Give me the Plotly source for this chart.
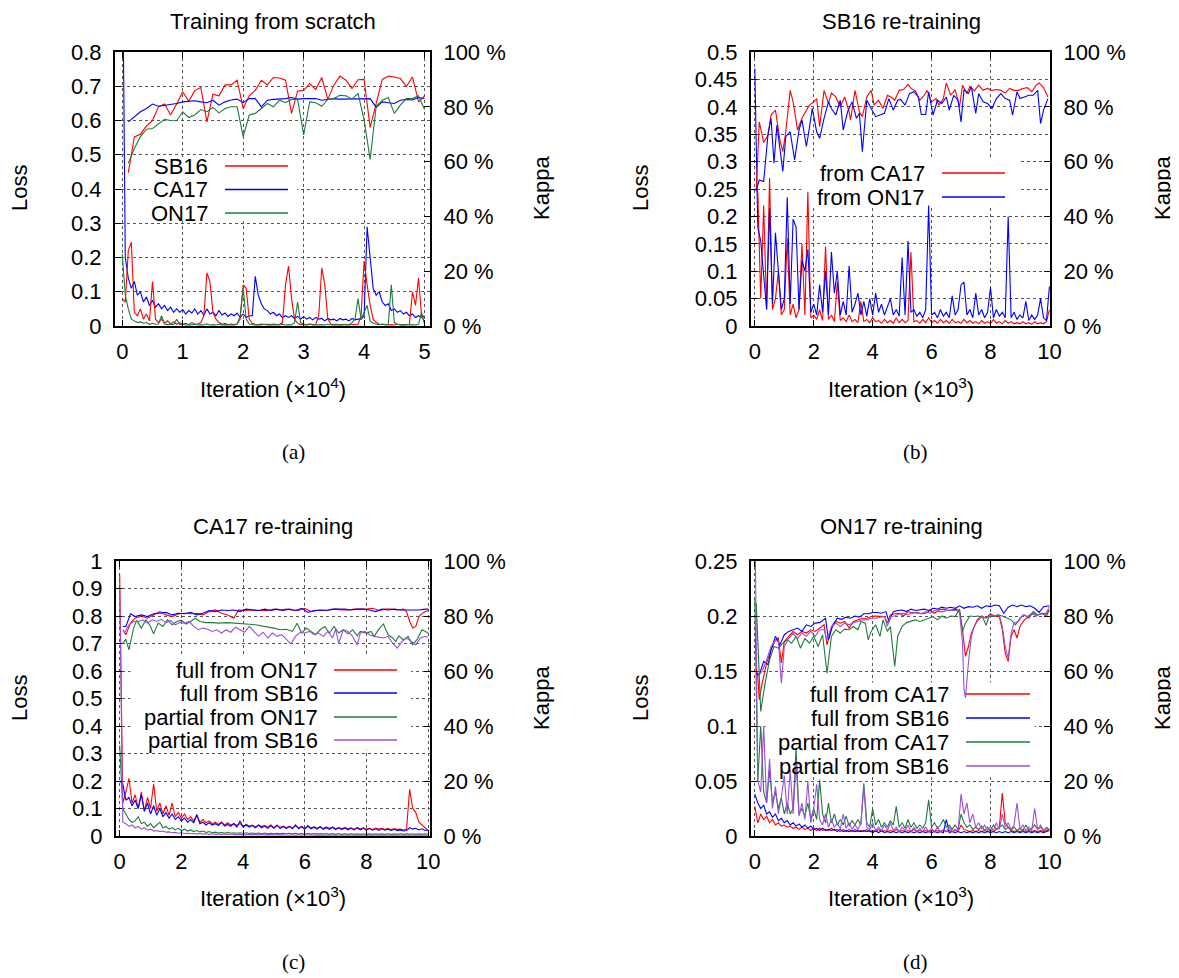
import plotly.graph_objects as go

W, H = 1179, 978
OFF = 8  # the page body adds an 8 px margin round the figure
FONT = "Liberation Sans, Arial, Helvetica, sans-serif"
SERIF = "Liberation Serif, DejaVu Serif, serif"
RED, BLUE, GREEN, PURPLE = "#ff0000", "#0000ff", "#1e7b3e", "#9b4fd9"

#%% iteration grids (loss logged every 500 / 100 iterations)
loss_x_a = [round(0.05 * i, 2) for i in range(101)]   # x10^4
loss_x_k = [round(0.1 * i, 1) for i in range(101)]    # x10^3
kappa_x_a = [round(0.1 * i, 1) for i in range(1, 51)]

#%% (a) training from scratch
loss_a_sb16 = [0.08, 0.07, 0.22, 0.245, 0.04, 0.03, 0.05, 0.02, 0.035, 0.015,
               0.13, 0.02, 0.01, 0.02, 0.008, 0.015, 0.006, 0.012, 0.005, 0.01,
               0.005, 0.008, 0.004, 0.01, 0.005, 0.006, 0.01, 0.03, 0.155, 0.13,
               0.04, 0.02, 0.01, 0.005, 0.008, 0.004, 0.006, 0.004, 0.006, 0.02,
               0.12, 0.11, 0.02, 0.008, 0.005, 0.004, 0.006, 0.004, 0.005, 0.004,
               0.006, 0.004, 0.005, 0.01, 0.12, 0.175, 0.08, 0.02, 0.008, 0.004,
               0.005, 0.004, 0.006, 0.004, 0.005, 0.03, 0.17, 0.12, 0.02, 0.006,
               0.004, 0.005, 0.003, 0.005, 0.003, 0.004, 0.003, 0.004, 0.005, 0.03,
               0.19, 0.12, 0.06, 0.02, 0.01, 0.005, 0.004, 0.005, 0.003, 0.004,
               0.003, 0.005, 0.003, 0.004, 0.003, 0.005, 0.1, 0.06, 0.14, 0.03,
               0.01]
loss_a_ca17 = [1.2, 0.2, 0.14, 0.11, 0.13, 0.09, 0.1, 0.07, 0.085, 0.06,
               0.075, 0.055, 0.065, 0.05, 0.06, 0.045, 0.055, 0.04, 0.05, 0.04,
               0.048, 0.035, 0.045, 0.038, 0.05, 0.035, 0.045, 0.032, 0.05, 0.035,
               0.04, 0.03, 0.045, 0.032, 0.038, 0.028, 0.035, 0.03, 0.038, 0.025,
               0.035, 0.025, 0.03, 0.03, 0.145, 0.09, 0.065, 0.05, 0.045, 0.035,
               0.04, 0.03, 0.035, 0.025, 0.03, 0.025, 0.03, 0.022, 0.028, 0.02,
               0.028, 0.02, 0.025, 0.018, 0.025, 0.02, 0.022, 0.015, 0.022, 0.018,
               0.02, 0.015, 0.022, 0.018, 0.02, 0.015, 0.022, 0.018, 0.02, 0.02,
               0.03, 0.29, 0.2, 0.11, 0.09, 0.1, 0.07, 0.06, 0.065, 0.045,
               0.05, 0.04, 0.045, 0.035, 0.04, 0.03, 0.035, 0.025, 0.03, 0.025,
               0.03]
loss_a_on17 = [0.21, 0.09, 0.05, 0.02, 0.015, 0.01, 0.012, 0.008, 0.01, 0.005,
               0.008, 0.005, 0.006, 0.03, 0.006, 0.004, 0.005, 0.004, 0.02, 0.004,
               0.005, 0.003, 0.004, 0.003, 0.005, 0.003, 0.004, 0.003, 0.006, 0.003,
               0.004, 0.003, 0.005, 0.003, 0.004, 0.003, 0.004, 0.003, 0.005, 0.03,
               0.11, 0.02, 0.006, 0.004, 0.003, 0.004, 0.003, 0.005, 0.003, 0.004,
               0.003, 0.004, 0.003, 0.005, 0.003, 0.004, 0.003, 0.01, 0.07, 0.01,
               0.004, 0.003, 0.005, 0.003, 0.004, 0.003, 0.004, 0.003, 0.005, 0.003,
               0.004, 0.003, 0.004, 0.003, 0.005, 0.003, 0.01, 0.02, 0.08, 0.02,
               0.04, 0.06, 0.015, 0.008, 0.005, 0.004, 0.006, 0.004, 0.005, 0.12,
               0.01, 0.005, 0.004, 0.003, 0.005, 0.003, 0.004, 0.003, 0.005, 0.04,
               0.006]
kappa_a_sb16 = [56, 69, 70, 73, 75, 80, 81, 77, 81, 85.5,
                82, 86, 87, 74.5, 84.6, 84, 88, 88, 89.7, 79.4,
                84, 86, 89.7, 88, 90.7, 90.5, 89.7, 77.6, 85.7, 86,
                88.5, 86.3, 90.7, 82.7, 87.9, 91.2, 89.7, 86.7, 89.9, 90,
                72.5, 81, 90, 91.2, 90.9, 90.3, 87.5, 90.9, 81.8, 84]
kappa_a_ca17 = [74.5, 76.4, 78.2, 79.4, 81, 80.2, 80.5, 81, 81.2, 81.8,
                82, 82.2, 81.8, 81.5, 82.4, 80.6, 81.8, 82.5, 82.8, 81.5,
                83, 83, 80, 82.4, 82.7, 82.8, 83, 83.4, 82.8, 83,
                83, 83, 82.4, 82.7, 83, 82.8, 82.8, 83, 82.8, 82.8,
                83, 79.8, 81.8, 81.5, 81.2, 82.4, 82.7, 82.5, 83.4, 83]
kappa_a_on17 = [59.4, 64.8, 69.1, 71.8, 72.1, 73.9, 75.4, 75, 74.9, 78.2,
                76.1, 77, 79, 78.2, 79.8, 77.8, 79.4, 80, 80, 69.1,
                77, 77.6, 79.4, 81.2, 80, 82.4, 81.5, 82.7, 82.8, 69.7,
                81.8, 81.5, 80.2, 82.7, 83, 84.2, 84, 82.8, 84.8, 75.2,
                60.8, 80.2, 82.4, 83.4, 77.6, 80.6, 83, 83, 84, 79]

#%% (b) SB16 re-training
loss_b_ca17 = [0.25, 0.245, 0.05, 0.22, 0.03, 0.27, 0.03, 0.05, 0.1, 0.02,
               0.03, 0.16, 0.02, 0.04, 0.015, 0.03, 0.15, 0.02, 0.245, 0.015,
               0.02, 0.012, 0.03, 0.01, 0.145, 0.012, 0.02, 0.008, 0.08, 0.01,
               0.015, 0.008, 0.02, 0.008, 0.012, 0.006, 0.045, 0.008, 0.012, 0.006,
               0.015, 0.008, 0.01, 0.005, 0.012, 0.006, 0.01, 0.005, 0.015, 0.006,
               0.012, 0.006, 0.01, 0.135, 0.008, 0.01, 0.005, 0.012, 0.006, 0.015,
               0.006, 0.01, 0.005, 0.012, 0.006, 0.01, 0.005, 0.012, 0.006, 0.008,
               0.005, 0.012, 0.006, 0.01, 0.005, 0.008, 0.004, 0.01, 0.005, 0.008,
               0.004, 0.012, 0.005, 0.008, 0.004, 0.01, 0.005, 0.008, 0.004, 0.006,
               0.004, 0.008, 0.004, 0.006, 0.003, 0.008, 0.004, 0.006, 0.004, 0.008,
               0.03]
loss_b_on17 = [0.47, 0.18, 0.155, 0.09, 0.03, 0.215, 0.04, 0.17, 0.09, 0.03,
               0.05, 0.235, 0.04, 0.195, 0.18, 0.03, 0.12, 0.1, 0.14, 0.025,
               0.04, 0.02, 0.075, 0.025, 0.1, 0.02, 0.135, 0.06, 0.1, 0.02,
               0.045, 0.02, 0.11, 0.025, 0.04, 0.06, 0.02, 0.045, 0.018, 0.05,
               0.02, 0.06, 0.025, 0.04, 0.02, 0.035, 0.05, 0.02, 0.03, 0.018,
               0.125, 0.02, 0.155, 0.025, 0.03, 0.018, 0.025, 0.015, 0.03, 0.22,
               0.02, 0.025, 0.015, 0.03, 0.018, 0.025, 0.015, 0.055, 0.02, 0.03,
               0.075, 0.08, 0.02, 0.03, 0.015, 0.06, 0.02, 0.03, 0.015, 0.025,
               0.07, 0.015, 0.03, 0.018, 0.025, 0.015, 0.2, 0.015, 0.025, 0.012,
               0.02, 0.015, 0.045, 0.01, 0.02, 0.012, 0.02, 0.05, 0.015, 0.01,
               0.072]
kappa_b_ca17_x = [0.05, 0.15, 0.3, 0.45, 0.55, 0.7, 0.85, 0.95, 1.05, 1.2,
                  1.3, 1.45, 1.6, 1.75, 1.85, 2.0, 2.1, 2.2, 2.35, 2.5,
                  2.6, 2.75, 2.9, 3.05, 3.2, 3.25, 3.4, 3.55, 3.65, 3.8,
                  3.95, 4.05, 4.2, 4.35, 4.5, 4.65, 4.75, 4.9, 5.05, 5.2,
                  5.3, 5.45, 5.6, 5.75, 5.85, 6.0, 6.15, 6.25, 6.4, 6.5,
                  6.65, 6.8, 6.95, 7.05, 7.2, 7.3, 7.45, 7.6, 7.75, 7.9,
                  8.05, 8.2, 8.35, 8.5, 8.65, 8.8, 8.95, 9.1, 9.25, 9.4,
                  9.55, 9.65, 9.8, 9.95]
kappa_b_ca17 = [50, 74.5, 67, 69.7, 77, 78.8, 67.9, 63.6, 70.9, 86,
                81.8, 71.5, 75.8, 78.8, 80.6, 81.8, 83, 72.7, 86, 81.2,
                85, 83.6, 80, 83.6, 78.2, 75.2, 86, 78.2, 76.4, 83.6,
                86, 80.6, 82.4, 79.4, 84.2, 83.4, 82.4, 86, 86.3, 88.2,
                86.7, 85.8, 82.4, 84.2, 86, 81.8, 83, 80.6, 83, 88.7,
                84.2, 86.3, 80, 87.9, 84.8, 87.5, 85.8, 87.9, 86, 86.7,
                86, 86.3, 86, 85, 86.7, 86, 86, 86.7, 87, 85.5,
                87.9, 88.7, 87, 83.6]
kappa_b_on17_x = [0.05, 0.15, 0.3, 0.45, 0.55, 0.65, 0.75, 0.85, 0.95, 1.05,
                  1.2, 1.35, 1.5, 1.6, 1.75, 1.85, 1.95, 2.1, 2.2, 2.35,
                  2.5, 2.6, 2.75, 2.9, 3.0, 3.15, 3.3, 3.45, 3.55, 3.65,
                  3.8, 3.95, 4.1, 4.25, 4.4, 4.55, 4.7, 4.85, 4.95, 5.1,
                  5.25, 5.4, 5.55, 5.65, 5.8, 5.9, 6.05, 6.2, 6.35, 6.5,
                  6.6, 6.75, 6.9, 7.0, 7.1, 7.25, 7.35, 7.5, 7.6, 7.75,
                  7.9, 8.05, 8.2, 8.35, 8.5, 8.65, 8.75, 8.9, 9.0, 9.15,
                  9.3, 9.45, 9.6, 9.7, 9.8, 9.95]
kappa_b_on17 = [49.7, 53.3, 52.7, 70.3, 75.8, 59.4, 73.3, 63.6, 56.4, 69.1,
                70.9, 60.6, 71.5, 75.2, 65.5, 72.1, 79.4, 70.9, 68.5, 75.8,
                81.8, 79.4, 77, 82.4, 71.5, 78.2, 81.8, 75.8, 77.6, 63.6,
                82.4, 79.4, 76.4, 77, 77.6, 83, 78.8, 82.4, 82.7, 80.6,
                84.8, 85.5, 83.6, 77.2, 77.2, 85.5, 77, 82.4, 81.2, 83.6,
                78.8, 84.2, 82.4, 74.5, 86.3, 84.8, 87.3, 77.6, 84.8, 81.8,
                81.2, 79.4, 83, 84.8, 83, 82.4, 77, 85.5, 83, 83.6,
                84.2, 84.2, 86, 73.9, 78.8, 83]

#%% (c) CA17 re-training
loss_c_full_on17 = [0.95, 0.12, 0.16, 0.21, 0.12, 0.15, 0.1, 0.16, 0.09, 0.14,
                    0.1, 0.19, 0.09, 0.12, 0.08, 0.11, 0.075, 0.12, 0.07, 0.085,
                    0.065, 0.08, 0.06, 0.07, 0.055, 0.075, 0.05, 0.06, 0.048, 0.055,
                    0.045, 0.05, 0.042, 0.05, 0.04, 0.048, 0.04, 0.045, 0.038, 0.045,
                    0.035, 0.042, 0.036, 0.04, 0.033, 0.04, 0.035, 0.038, 0.032, 0.04,
                    0.03, 0.038, 0.032, 0.036, 0.03, 0.035, 0.03, 0.036, 0.03, 0.034,
                    0.028, 0.035, 0.03, 0.033, 0.028, 0.032, 0.027, 0.033, 0.028, 0.032,
                    0.026, 0.03, 0.027, 0.031, 0.026, 0.03, 0.025, 0.03, 0.026, 0.03,
                    0.025, 0.028, 0.024, 0.029, 0.025, 0.028, 0.024, 0.027, 0.023, 0.026,
                    0.024, 0.025, 0.022, 0.025, 0.17, 0.1, 0.085, 0.05, 0.04, 0.03,
                    0.02]
loss_c_full_sb16 = [0.2, 0.19, 0.13, 0.14, 0.11, 0.13, 0.1, 0.15, 0.09, 0.12,
                    0.08, 0.11, 0.075, 0.1, 0.07, 0.085, 0.065, 0.08, 0.06, 0.07,
                    0.055, 0.065, 0.05, 0.06, 0.048, 0.078, 0.045, 0.05, 0.04, 0.048,
                    0.04, 0.045, 0.038, 0.05, 0.036, 0.042, 0.035, 0.045, 0.033, 0.055,
                    0.033, 0.04, 0.032, 0.038, 0.03, 0.04, 0.03, 0.036, 0.028, 0.038,
                    0.028, 0.04, 0.027, 0.034, 0.027, 0.035, 0.026, 0.04, 0.026, 0.034,
                    0.025, 0.038, 0.026, 0.032, 0.025, 0.035, 0.024, 0.03, 0.024, 0.032,
                    0.023, 0.03, 0.023, 0.03, 0.022, 0.028, 0.022, 0.03, 0.022, 0.028,
                    0.021, 0.027, 0.021, 0.026, 0.02, 0.026, 0.021, 0.025, 0.02, 0.025,
                    0.019, 0.022, 0.018, 0.02, 0.03, 0.025, 0.028, 0.022, 0.026, 0.02,
                    0.022]
loss_c_part_on17 = [0.33, 0.1, 0.08, 0.06, 0.05, 0.055, 0.07, 0.045, 0.05, 0.035,
                    0.045, 0.03, 0.04, 0.05, 0.03, 0.035, 0.025, 0.03, 0.022, 0.028,
                    0.02, 0.025, 0.018, 0.022, 0.016, 0.02, 0.015, 0.018, 0.013, 0.016,
                    0.012, 0.014, 0.011, 0.013, 0.01, 0.013, 0.01, 0.012, 0.01, 0.012,
                    0.009, 0.012, 0.009, 0.011, 0.009, 0.011, 0.008, 0.011, 0.008, 0.01,
                    0.008, 0.01, 0.008, 0.01, 0.008, 0.01, 0.007, 0.01, 0.007, 0.009,
                    0.007, 0.009, 0.007, 0.009, 0.007, 0.009, 0.007, 0.009, 0.006, 0.009,
                    0.006, 0.009, 0.006, 0.008, 0.006, 0.008, 0.006, 0.008, 0.006, 0.008,
                    0.006, 0.008, 0.006, 0.008, 0.006, 0.008, 0.006, 0.008, 0.006, 0.008,
                    0.006, 0.008, 0.006, 0.008, 0.006, 0.008, 0.006, 0.008, 0.006, 0.008,
                    0.006]
loss_c_part_sb16 = [0.9, 0.05, 0.045, 0.035, 0.04, 0.03, 0.035, 0.025, 0.03, 0.022,
                    0.025, 0.018, 0.02, 0.016, 0.018, 0.014, 0.015, 0.012, 0.013, 0.01,
                    0.012, 0.009, 0.01, 0.008, 0.009, 0.007, 0.009, 0.007, 0.008, 0.006,
                    0.008, 0.006, 0.007, 0.005, 0.007, 0.005, 0.007, 0.005, 0.006, 0.005,
                    0.006, 0.004, 0.006, 0.004, 0.006, 0.004, 0.006, 0.004, 0.005, 0.004,
                    0.005, 0.004, 0.005, 0.004, 0.005, 0.003, 0.005, 0.003, 0.005, 0.003,
                    0.005, 0.003, 0.005, 0.003, 0.004, 0.003, 0.004, 0.003, 0.004, 0.003,
                    0.004, 0.003, 0.004, 0.003, 0.004, 0.003, 0.004, 0.003, 0.004, 0.003,
                    0.004, 0.003, 0.004, 0.003, 0.004, 0.003, 0.004, 0.003, 0.004, 0.003,
                    0.004, 0.003, 0.004, 0.003, 0.004, 0.003, 0.004, 0.003, 0.004, 0.003,
                    0.004]
kappa_c_full_on17_x = [0.1, 0.2, 0.35, 0.5, 0.7, 0.9, 1.1, 1.3, 1.5, 1.7,
                       1.9, 2.1, 2.3, 2.5, 2.7, 2.9, 3.1, 3.3, 3.5, 3.7,
                       3.85, 4.0, 4.3, 4.5, 4.8, 5.0, 5.2, 5.4, 5.6, 5.8,
                       6.0, 6.2, 6.4, 6.6, 6.8, 7.0, 7.2, 7.4, 7.6, 7.8,
                       8.0, 8.2, 8.4, 8.6, 8.8, 9.0, 9.2, 9.3, 9.4, 9.5,
                       9.6, 9.7, 9.85, 10.0]
kappa_c_full_on17 = [75, 73.2, 77.4, 79.2, 80, 79.2, 80.4, 81.6, 80.4, 79.8,
                     80.7, 81, 80.8, 81, 80.4, 81.6, 82.2, 81, 80.4, 79.2,
                     82.2, 82, 82.2, 82, 82, 82.5, 82.2, 82.5, 82.2, 82,
                     82.8, 81.6, 82, 82, 82.2, 82.5, 82.2, 82.2, 82.5, 82.5,
                     82.5, 82.8, 82, 82.5, 82.5, 82.2, 82.5, 81.6, 78, 75.6,
                     76.2, 79.8, 81.3, 82]
kappa_c_full_sb16_x = [0.1, 0.2, 0.35, 0.5, 0.7, 0.9, 1.1, 1.3, 1.5, 1.7,
                       1.9, 2.1, 2.3, 2.5, 2.7, 2.9, 3.1, 3.3, 3.5, 3.7,
                       3.9, 4.1, 4.3, 4.5, 4.7, 4.9, 5.1, 5.3, 5.5, 5.7,
                       5.9, 6.1, 6.3, 6.5, 6.7, 6.9, 7.1, 7.3, 7.5, 7.7,
                       7.9, 8.1, 8.3, 8.5, 8.7, 8.9, 9.1, 9.3, 9.5, 9.7,
                       9.9, 10.0]
kappa_c_full_sb16 = [76.2, 76.2, 80.8, 79.8, 80.4, 79.8, 80.8, 81, 81.3, 80.4,
                     81, 80.8, 81.3, 80.4, 81, 82, 81.6, 82.2, 82, 82.2,
                     81.6, 82.5, 82.2, 82, 82.5, 82, 82.5, 82, 82.5, 82,
                     82.8, 81.3, 82, 82.2, 82, 82.5, 82.5, 82.5, 82.2, 82.5,
                     82.5, 82.2, 81.6, 82.5, 82.2, 82.5, 82.2, 82.2, 82, 82.2,
                     82.5, 82.5]
kappa_c_part_on17_x = [0.1, 0.2, 0.3, 0.45, 0.55, 0.7, 0.85, 1.0, 1.1, 1.25,
                       1.4, 1.55, 1.7, 1.85, 2.0, 2.15, 2.3, 2.45, 2.6, 2.8,
                       3.0, 3.2, 3.5, 3.8, 4.0, 4.2, 4.4, 4.6, 4.8, 5.0,
                       5.2, 5.4, 5.6, 5.75, 5.9, 6.05, 6.2, 6.35, 6.5, 6.65,
                       6.8, 6.95, 7.1, 7.25, 7.4, 7.55, 7.7, 7.8, 8.0, 8.15,
                       8.25, 8.4, 8.55, 8.7, 8.85, 8.95, 9.05, 9.2, 9.35, 9.5,
                       9.65, 9.8, 10.0]
kappa_c_part_on17 = [70.1, 71.6, 67.7, 75.6, 78.4, 75.6, 78.6, 76.2, 73.5, 77.4,
                     76.2, 78.6, 76.8, 78, 78.4, 77.1, 78, 79.2, 78, 77.6,
                     77.6, 77.4, 77.6, 77.4, 77.4, 77, 76.8, 76.4, 76.2, 75.6,
                     75, 75.2, 74.4, 77.4, 73.8, 75.6, 74.4, 73.2, 75, 76.2,
                     73.8, 76.2, 73.8, 75, 73.5, 75, 72.8, 74.4, 73.8, 74.4,
                     72.6, 75.2, 77.1, 73.2, 72, 70.7, 72.8, 71.3, 72.6, 69.5,
                     71.6, 75, 73.8]
kappa_c_part_sb16_x = [0.15, 0.3, 0.45, 0.6, 0.75, 0.9, 1.05, 1.2, 1.35, 1.5,
                       1.65, 1.8, 1.95, 2.1, 2.25, 2.4, 2.55, 2.7, 2.85, 3.0,
                       3.15, 3.3, 3.45, 3.6, 3.75, 3.9, 4.05, 4.2, 4.35, 4.5,
                       4.65, 4.8, 4.95, 5.1, 5.25, 5.4, 5.55, 5.7, 5.85, 6.0,
                       6.15, 6.3, 6.45, 6.6, 6.75, 6.9, 7.0, 7.1, 7.25, 7.4,
                       7.55, 7.7, 7.8, 7.95, 8.1, 8.25, 8.4, 8.55, 8.7, 8.85,
                       9.0, 9.15, 9.3, 9.45, 9.6, 9.75, 9.9, 10.0]
kappa_c_part_sb16 = [73.8, 76.8, 78, 78, 78.6, 77.4, 78.6, 78, 78.8, 77.6,
                     78.4, 76.8, 77.6, 77.4, 78, 76.2, 75, 75.6, 75.2, 74.4,
                     75, 73.8, 75, 74.1, 75.9, 75, 74.1, 76.2, 74.4, 72.6,
                     74.1, 72, 73.8, 72.6, 73.2, 71.6, 69.9, 72.6, 74.1, 73.8,
                     74.4, 73.2, 73.8, 72.6, 74.4, 72, 75.2, 70.1, 75, 74.4,
                     72.6, 69.5, 73.8, 74.4, 73.2, 72.6, 72.3, 72, 72.6, 70.1,
                     68.3, 70.7, 72, 70.7, 69.5, 72, 72.6, 72.3]

#%% (d) ON17 re-training
loss_d_full_ca17 = [0.027, 0.012, 0.02, 0.015, 0.018, 0.012, 0.015, 0.01, 0.012, 0.009,
                    0.01, 0.008, 0.009, 0.007, 0.008, 0.006, 0.008, 0.006, 0.007, 0.005,
                    0.007, 0.005, 0.007, 0.005, 0.006, 0.005, 0.007, 0.005, 0.006, 0.004,
                    0.006, 0.004, 0.006, 0.004, 0.006, 0.004, 0.005, 0.004, 0.006, 0.004,
                    0.005, 0.004, 0.006, 0.004, 0.005, 0.004, 0.005, 0.004, 0.006, 0.004,
                    0.005, 0.004, 0.005, 0.004, 0.006, 0.004, 0.005, 0.004, 0.005, 0.004,
                    0.005, 0.004, 0.005, 0.004, 0.005, 0.004, 0.005, 0.004, 0.005, 0.004,
                    0.01, 0.006, 0.005, 0.004, 0.005, 0.004, 0.005, 0.004, 0.005, 0.004,
                    0.005, 0.004, 0.006, 0.008, 0.039, 0.012, 0.008, 0.005, 0.004, 0.005,
                    0.004, 0.005, 0.004, 0.005, 0.004, 0.005, 0.004, 0.005, 0.004, 0.005,
                    0.006]
loss_d_full_sb16 = [0.038, 0.03, 0.025, 0.028, 0.02, 0.022, 0.017, 0.02, 0.014, 0.016,
                    0.012, 0.014, 0.01, 0.012, 0.009, 0.011, 0.008, 0.01, 0.007, 0.009,
                    0.006, 0.007, 0.005, 0.007, 0.005, 0.006, 0.005, 0.006, 0.004, 0.006,
                    0.004, 0.005, 0.004, 0.005, 0.004, 0.005, 0.004, 0.005, 0.004, 0.005,
                    0.003, 0.005, 0.003, 0.005, 0.003, 0.004, 0.003, 0.004, 0.003, 0.004,
                    0.003, 0.004, 0.003, 0.004, 0.003, 0.004, 0.003, 0.004, 0.003, 0.004,
                    0.003, 0.004, 0.003, 0.004, 0.003, 0.015, 0.003, 0.004, 0.003, 0.004,
                    0.003, 0.004, 0.003, 0.004, 0.003, 0.004, 0.003, 0.004, 0.003, 0.004,
                    0.003, 0.004, 0.003, 0.004, 0.003, 0.004, 0.003, 0.004, 0.003, 0.004,
                    0.003, 0.004, 0.003, 0.004, 0.003, 0.004, 0.003, 0.004, 0.003, 0.004,
                    0.005]
loss_d_part_ca17 = [0.215, 0.05, 0.1, 0.04, 0.03, 0.06, 0.03, 0.04, 0.025, 0.035,
                    0.02, 0.03, 0.02, 0.025, 0.08, 0.02, 0.025, 0.018, 0.03, 0.015,
                    0.025, 0.015, 0.051, 0.02, 0.012, 0.03, 0.012, 0.02, 0.01, 0.015,
                    0.01, 0.018, 0.009, 0.014, 0.01, 0.015, 0.01, 0.048, 0.012, 0.008,
                    0.025, 0.01, 0.015, 0.008, 0.012, 0.008, 0.014, 0.01, 0.027, 0.008,
                    0.012, 0.007, 0.015, 0.008, 0.012, 0.007, 0.01, 0.007, 0.012, 0.033,
                    0.008, 0.012, 0.007, 0.01, 0.015, 0.008, 0.01, 0.006, 0.01, 0.006,
                    0.02, 0.012, 0.008, 0.01, 0.006, 0.008, 0.006, 0.009, 0.005, 0.008,
                    0.005, 0.01, 0.006, 0.008, 0.01, 0.006, 0.008, 0.005, 0.008, 0.005,
                    0.007, 0.005, 0.01, 0.005, 0.007, 0.01, 0.006, 0.008, 0.005, 0.007,
                    0.005]
loss_d_part_sb16 = [0.3, 0.05, 0.04, 0.1, 0.03, 0.07, 0.025, 0.045, 0.02, 0.035,
                    0.055, 0.02, 0.06, 0.02, 0.066, 0.018, 0.03, 0.015, 0.05, 0.012,
                    0.025, 0.047, 0.015, 0.01, 0.02, 0.008, 0.015, 0.008, 0.012, 0.006,
                    0.02, 0.007, 0.012, 0.006, 0.01, 0.006, 0.012, 0.045, 0.008, 0.006,
                    0.012, 0.005, 0.008, 0.005, 0.01, 0.005, 0.012, 0.005, 0.008, 0.004,
                    0.008, 0.005, 0.01, 0.004, 0.008, 0.004, 0.007, 0.004, 0.008, 0.004,
                    0.007, 0.004, 0.008, 0.004, 0.006, 0.004, 0.008, 0.004, 0.006, 0.005,
                    0.038, 0.02, 0.03, 0.012, 0.02, 0.008, 0.012, 0.006, 0.01, 0.005,
                    0.008, 0.005, 0.012, 0.006, 0.02, 0.008, 0.012, 0.006, 0.01, 0.03,
                    0.006, 0.01, 0.005, 0.008, 0.005, 0.025, 0.006, 0.01, 0.005, 0.008,
                    0.006]
kappa_d_full_ca17_x = [0.05, 0.1, 0.15, 0.25, 0.4, 0.55, 0.7, 0.8, 0.9, 1.0,
                       1.15, 1.3, 1.45, 1.6, 1.75, 1.9, 2.05, 2.2, 2.35, 2.45,
                       2.6, 2.75, 2.9, 3.05, 3.2, 3.35, 3.5, 3.65, 3.8, 3.95,
                       4.1, 4.25, 4.4, 4.5, 4.6, 4.75, 4.9, 5.05, 5.2, 5.35,
                       5.5, 5.65, 5.8, 5.95, 6.1, 6.25, 6.4, 6.55, 6.7, 6.85,
                       6.95, 7.05, 7.15, 7.25, 7.35, 7.45, 7.55, 7.7, 7.85, 8.0,
                       8.15, 8.3, 8.4, 8.5, 8.6, 8.7, 8.8, 8.9, 9.0, 9.15,
                       9.3, 9.45, 9.6, 9.75, 9.9, 10.0]
kappa_d_full_ca17 = [61, 58, 49.6, 55.6, 62.9, 67.7, 71.3, 72, 62.9, 70.7,
                     72.6, 74.4, 73.2, 74.4, 73.8, 75, 74.4, 75.6, 76.8, 69.5,
                     75.6, 78, 77.4, 78, 75.6, 78, 78.6, 79.2, 79.2, 79.8,
                     80, 79.8, 79.8, 77.4, 80.4, 80.8, 81, 80, 81.6, 81,
                     81.3, 80.8, 81, 82, 81, 82.2, 82.5, 82, 82.2, 82.5,
                     81.6, 75, 65.3, 68.9, 73.8, 76.2, 78.6, 80, 79.2, 80.8,
                     79.8, 79.8, 75, 66.5, 63.5, 72.6, 75, 72, 76.2, 78.6,
                     79.8, 81, 80.4, 81, 80.8, 82.2]
kappa_d_full_sb16_x = [0.05, 0.15, 0.3, 0.45, 0.55, 0.7, 0.85, 1.0, 1.15, 1.3,
                       1.45, 1.6, 1.75, 1.9, 2.05, 2.2, 2.4, 2.5, 2.65, 2.8,
                       2.95, 3.1, 3.25, 3.4, 3.55, 3.7, 3.85, 4.0, 4.15, 4.3,
                       4.45, 4.55, 4.7, 4.85, 5.0, 5.15, 5.3, 5.45, 5.6, 5.75,
                       5.9, 6.05, 6.2, 6.35, 6.5, 6.65, 6.8, 6.95, 7.1, 7.25,
                       7.4, 7.55, 7.7, 7.85, 8.0, 8.15, 8.3, 8.45, 8.6, 8.75,
                       8.9, 9.05, 9.2, 9.35, 9.5, 9.65, 9.8, 10.0]
kappa_d_full_sb16 = [59.2, 58.6, 63.5, 62.3, 67.7, 72.6, 69.5, 73.2, 74.4, 75,
                     75.6, 74.4, 76.8, 76.2, 77.4, 77.6, 79.2, 71.3, 76.8, 79.2,
                     78.8, 79.6, 79.2, 80, 79.6, 80.8, 80.8, 81.3, 81.3, 81,
                     81.6, 78, 81.6, 82, 82.2, 81.6, 82.5, 82, 82.2, 82.5,
                     82, 82.8, 82.5, 83.2, 82.8, 83.2, 82.8, 83.7, 82.8, 83.4,
                     83.2, 83.7, 82.8, 83.7, 83.4, 84, 83.7, 81, 83.2, 84,
                     83.4, 84, 83.4, 83.7, 82.8, 81.3, 83.4, 83.7]
kappa_d_part_ca17_x = [0.05, 0.2, 0.35, 0.5, 0.65, 0.8, 0.95, 1.1, 1.25, 1.4,
                       1.55, 1.7, 1.85, 2.0, 2.15, 2.3, 2.45, 2.6, 2.75, 2.9,
                       3.05, 3.2, 3.35, 3.5, 3.6, 3.75, 3.85, 3.95, 4.1, 4.25,
                       4.35, 4.5, 4.6, 4.75, 4.85, 5.0, 5.15, 5.3, 5.45, 5.6,
                       5.75, 5.9, 6.05, 6.2, 6.35, 6.5, 6.65, 6.8, 6.95, 7.05,
                       7.15, 7.3, 7.45, 7.6, 7.75, 7.85, 7.95, 8.1, 8.25, 8.4,
                       8.55, 8.7, 8.85, 9.0, 9.15, 9.3, 9.45, 9.6, 9.75, 9.9,
                       10.0]
kappa_d_part_ca17 = [84.6, 45.3, 55.6, 64, 68.9, 68.3, 70.1, 71.3, 70.1, 72.6,
                     68.3, 71.8, 70.1, 72.6, 68.9, 73.2, 59.2, 72.6, 75, 73.8,
                     75.2, 75, 76.2, 75, 78, 77.4, 71.3, 74.4, 76.8, 72.6,
                     78.6, 74.4, 76.2, 61.7, 72.6, 76.2, 77.6, 78, 78.6, 78,
                     78.6, 79.2, 79.8, 78.6, 80, 79.2, 80, 79.8, 82.5, 74.4,
                     77.4, 80, 79.8, 80, 79.2, 76.6, 79.8, 80, 80.4, 80,
                     79.2, 78.6, 76.8, 79.2, 80.4, 79.2, 81.6, 80.4, 81, 80,
                     82.2]
kappa_d_part_sb16_x = [0.1, 0.25, 0.4, 0.55, 0.7, 0.8, 0.9, 1.0, 1.15, 1.3,
                       1.45, 1.6, 1.75, 1.9, 2.05, 2.2, 2.35, 2.45, 2.6, 2.75,
                       2.9, 3.05, 3.2, 3.35, 3.5, 3.65, 3.8, 3.95, 4.1, 4.25,
                       4.4, 4.5, 4.6, 4.75, 4.9, 5.05, 5.2, 5.35, 5.5, 5.65,
                       5.8, 5.95, 6.1, 6.25, 6.4, 6.55, 6.7, 6.85, 6.95, 7.05,
                       7.1, 7.15, 7.25, 7.35, 7.45, 7.55, 7.7, 7.85, 8.0, 8.15,
                       8.3, 8.4, 8.5, 8.6, 8.7, 8.8, 8.95, 9.1, 9.25, 9.4,
                       9.55, 9.7, 9.85, 10.0]
kappa_d_part_sb16 = [58, 59.9, 64, 68.9, 71.3, 70.7, 55.6, 68.9, 71.8, 73.8,
                     71.8, 73.8, 72.6, 74.4, 72.6, 75, 75, 71.3, 76.2, 77.4,
                     76.2, 77.4, 76.8, 77.6, 78, 78.6, 78.6, 79.2, 79.2, 79.4,
                     79.8, 76.2, 79.8, 80, 80.8, 81, 80.4, 81.3, 81, 80.8,
                     81.6, 81, 82, 81.6, 81.6, 82.2, 82, 82, 81.3, 70.1,
                     53.2, 50.2, 62.9, 72.6, 76.2, 78, 79.8, 79.2, 80.4, 80,
                     80.4, 76.2, 68.9, 64.7, 73.8, 77.4, 78, 80.4, 79.8, 81,
                     80, 80.8, 80.4, 83.4]

#%% tick labels
xticks_a = [0, 1, 2, 3, 4, 5]
xticks_k = [0, 2, 4, 6, 8, 10]
yticks_a = [0, 0.1, 0.2, 0.3, 0.4, 0.5, 0.6, 0.7, 0.8]
yticks_b = [0, 0.05, 0.1, 0.15, 0.2, 0.25, 0.3, 0.35, 0.4, 0.45, 0.5]
yticks_c = [0, 0.1, 0.2, 0.3, 0.4, 0.5, 0.6, 0.7, 0.8, 0.9, 1]
yticks_d = [0, 0.05, 0.1, 0.15, 0.2, 0.25]
kappa_ticks = [0, 20, 40, 60, 80, 100]
kappa_text = ["0 %", "20 %", "40 %", "60 %", "80 %", "100 %"]


# screen pixel -> paper fraction
def px(x):
    return (x - OFF) / W


def py(y):
    return 1 - (y - OFF) / H


# per-panel set up: pixel boxes measured on the reference figure
panels = [
    dict(box=(115, 430, 52, 326), xr=[-0.12, 5.09], yr=[0, 0.8], xt=xticks_a, yt=yticks_a,
         loss=[(loss_x_a, loss_a_ca17, BLUE), (loss_x_a, loss_a_sb16, RED), (loss_x_a, loss_a_on17, GREEN)],
         kappa=[(kappa_x_a, kappa_a_sb16, RED), (kappa_x_a, kappa_a_ca17, BLUE), (kappa_x_a, kappa_a_on17, GREEN)],
         title="Training from scratch", cx=273, ty=8, ly=188, lossx=19, kapx=541, ity=388, exp="4",
         cap="(a)", capx=293, capy=452,
         names=["SB16", "CA17", "ON17"], cols=[RED, BLUE, GREEN], kx=209, rows=[166, 189.5, 213], samp=(225, 288),
         keybox=(0.45, 2.89, 0.306, 0.493)),
    dict(box=(751, 1050, 52, 326), xr=[-0.13, 10.02], yr=[0, 0.5], xt=xticks_k, yt=yticks_b,
         loss=[(loss_x_k, loss_b_ca17, RED), (loss_x_k, loss_b_on17, BLUE)],
         kappa=[(kappa_b_ca17_x, kappa_b_ca17, RED), (kappa_b_on17_x, kappa_b_on17, BLUE)],
         title="SB16 re-training", cx=901, ty=8, ly=188, lossx=640, kapx=1162, ity=388, exp="3",
         cap="(b)", capx=915, capy=452,
         names=["from CA17", "from ON17"], cols=[RED, BLUE], kx=926, rows=[173, 197], samp=(942, 1005),
         keybox=(1.58, 8.93, 0.218, 0.303)),
    dict(box=(116, 430, 561, 836), xr=[-0.12, 10.06], yr=[0, 1], xt=xticks_k, yt=yticks_c,
         loss=[(loss_x_k, loss_c_full_on17, RED), (loss_x_k, loss_c_full_sb16, BLUE),
               (loss_x_k, loss_c_part_on17, GREEN), (loss_x_k, loss_c_part_sb16, PURPLE)],
         kappa=[(kappa_c_full_on17_x, kappa_c_full_on17, RED), (kappa_c_full_sb16_x, kappa_c_full_sb16, BLUE),
                (kappa_c_part_on17_x, kappa_c_part_on17, GREEN), (kappa_c_part_sb16_x, kappa_c_part_sb16, PURPLE)],
         title="CA17 re-training", cx=273, ty=513, ly=698, lossx=19, kapx=541, ity=897, exp="3",
         cap="(c)", capx=293, capy=962,
         names=["full from ON17", "full from SB16", "partial from ON17", "partial from SB16"],
         cols=[RED, BLUE, GREEN, PURPLE], kx=319, rows=[670, 693, 717, 740], samp=(334, 397),
         keybox=(0.35, 9.45, 0.315, 0.66)),
    dict(box=(751, 1050, 561, 836), xr=[-0.13, 10.02], yr=[0, 0.25], xt=xticks_k, yt=yticks_d,
         loss=[(loss_x_k, loss_d_full_ca17, RED), (loss_x_k, loss_d_full_sb16, BLUE),
               (loss_x_k, loss_d_part_ca17, GREEN), (loss_x_k, loss_d_part_sb16, PURPLE)],
         kappa=[(kappa_d_full_ca17_x, kappa_d_full_ca17, RED), (kappa_d_full_sb16_x, kappa_d_full_sb16, BLUE),
                (kappa_d_part_ca17_x, kappa_d_part_ca17, GREEN), (kappa_d_part_sb16_x, kappa_d_part_sb16, PURPLE)],
         title="ON17 re-training", cx=901, ty=513, ly=698, lossx=640, kapx=1162, ity=897, exp="3",
         cap="(d)", capx=915, capy=962,
         names=["full from CA17", "full from SB16", "partial from CA17", "partial from SB16"],
         cols=[RED, BLUE, GREEN, PURPLE], kx=950, rows=[694, 718, 742, 766], samp=(966, 1030),
         keybox=(0.36, 9.5, 0.056, 0.1395)),
]

tickfont = dict(family=FONT, size=22, color="black")
fig = go.Figure()
layout = dict(width=W, height=H, margin=dict(l=0, r=0, t=0, b=0, autoexpand=False),
              paper_bgcolor="white", plot_bgcolor="white", showlegend=False)
shapes, annotations = [], []

for i, p in enumerate(panels, start=1):
    xa = "x" if i == 1 else f"x{i}"
    ya = "y" if i == 1 else f"y{i}"
    ka = f"y{i + 4}"
    x0, x1, y0, y1 = p["box"]

    for xs, ys, c in p["loss"]:
        fig.add_trace(go.Scatter(x=xs, y=ys, mode="lines", line=dict(color=c, width=1.1),
                                 xaxis=xa, yaxis=ya, hoverinfo="skip"))
    for xs, ys, c in p["kappa"]:
        fig.add_trace(go.Scatter(x=xs, y=ys, mode="lines", line=dict(color=c, width=1.1),
                                 xaxis=xa, yaxis=ka, hoverinfo="skip"))

    layout[f"xaxis{i if i > 1 else ''}"] = dict(
        domain=[px(x0), px(x1)], anchor=ya, range=p["xr"], tickvals=p["xt"], automargin=False,
        showgrid=True, gridcolor="#555555", griddash="dot", gridwidth=1, zeroline=False,
        showline=True, linecolor="black", linewidth=2, mirror="ticks",
        ticks="inside", ticklen=6, tickcolor="black", tickfont=tickfont, ticklabelstandoff=5)
    layout[f"yaxis{i if i > 1 else ''}"] = dict(
        domain=[py(y1), py(y0)], anchor=xa, range=p["yr"], tickvals=p["yt"], automargin=False,
        ticktext=[f"{v:g}" for v in p["yt"]],
        showgrid=True, gridcolor="#555555", griddash="dot", gridwidth=1, zeroline=False,
        showline=True, linecolor="black", linewidth=2, mirror=True,
        ticks="inside", ticklen=6, tickcolor="black", tickfont=tickfont, ticklabelstandoff=7)
    layout[f"yaxis{i + 4}"] = dict(
        overlaying=ya, anchor=xa, side="right", range=[0, 100], automargin=False,
        tickvals=kappa_ticks, ticktext=kappa_text, showgrid=False, zeroline=False,
        showline=True, linecolor="black", linewidth=2,
        ticks="inside", ticklen=6, tickcolor="black", tickfont=tickfont, ticklabelstandoff=7)

    # white key background, drawn above the grid but under the curves
    bx0, bx1, by0, by1 = p["keybox"]
    shapes.append(dict(type="rect", xref=xa, yref=ya, x0=bx0, x1=bx1, y0=by0, y1=by1,
                       fillcolor="white", line=dict(width=0), layer="between"))

    # key entries: label on the left, line sample on the right (gnuplot style)
    for name, c, ry in zip(p["names"], p["cols"], p["rows"]):
        annotations.append(dict(text=name, x=px(p["kx"]), y=py(ry), xanchor="right", font=tickfont,
                                borderpad=0))
        shapes.append(dict(type="line", xref="paper", yref="paper", x0=px(p["samp"][0]), x1=px(p["samp"][1]),
                           y0=py(ry), y1=py(ry), line=dict(color=c, width=1.5), layer="above"))

    annotations += [
        dict(text=p["title"], x=px(p["cx"]), y=py(p["ty"]), yanchor="top", borderpad=0, font=tickfont),
        dict(text="Loss", x=px(p["lossx"]), y=py(p["ly"]), textangle=-90, font=tickfont),
        dict(text="Kappa", x=px(p["kapx"]), y=py(p["ly"]), textangle=-90, font=tickfont),
        dict(text=f"Iteration (×10<sup>{p['exp']}</sup>)", x=px(p["cx"]), y=py(p["ity"]), font=tickfont),
        dict(text=p["cap"], x=px(p["capx"]), y=py(p["capy"]),
             font=dict(family=SERIF, size=21, color="black")),
    ]

for a in annotations:
    a.setdefault("xref", "paper")
    a.setdefault("yref", "paper")
    a.setdefault("showarrow", False)
    a.setdefault("xanchor", "center")
    a.setdefault("yanchor", "middle")

layout["shapes"] = shapes
layout["annotations"] = annotations
fig.update_layout(**layout)

fig.write_html("out.html")
